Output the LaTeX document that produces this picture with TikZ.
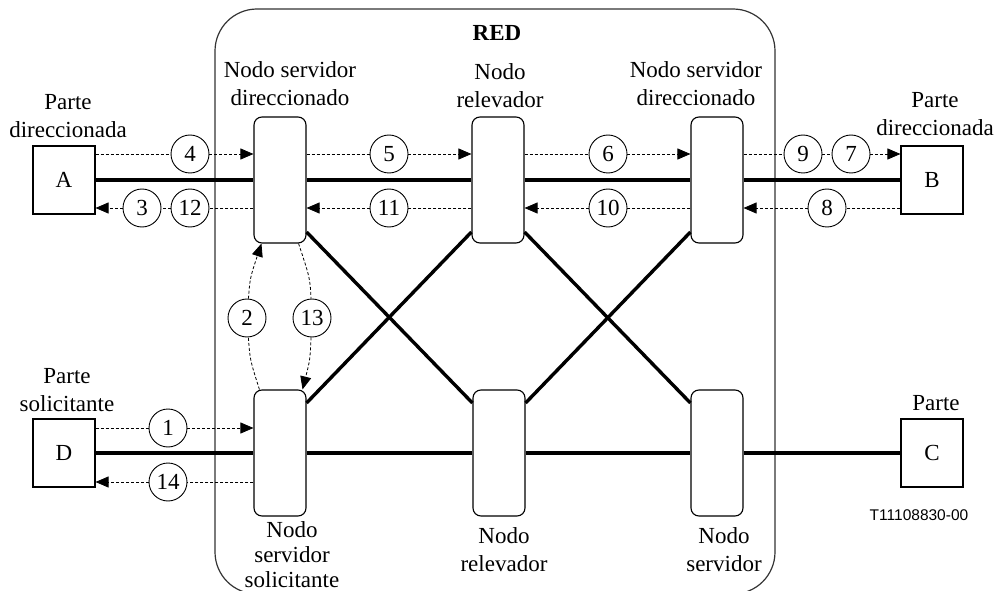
\documentclass[tikz,border=0pt]{standalone}
\usepackage{fontspec}
\setmainfont{Liberation Serif}
\newfontfamily\labsans{Liberation Sans}
\usetikzlibrary{arrows.meta,calc}
\begin{document}
\begin{tikzpicture}[x=1pt,y=-1pt,
  font=\fontsize{23}{28}\selectfont,
  srv/.style={draw,line width=1.1pt,rounded corners=8pt,minimum width=52pt,minimum height=126pt,fill=white,inner sep=0pt},
  party/.style={draw,line width=1.1pt,minimum width=62pt,minimum height=68pt,inner sep=0pt,fill=white},
  num/.style={draw,circle,line width=0.9pt,minimum size=38pt,inner sep=0pt,fill=white},
  lab/.style={align=center,inner sep=0pt},
  trunk/.style={line width=3.4pt},
  dl/.style={line width=0.8pt,dash pattern=on 3pt off 2pt},
  arr/.style={dl,-{Triangle[length=13pt,width=11pt]}},
]
\path[use as bounding box] (0,0) rectangle (997,591);
\clip (0,0) rectangle (997,591);
% network frame
\draw[line width=1.2pt,draw=black!80,rounded corners=42pt] (215,9) rectangle (775,594);
\node (red) at (497,33) {\bfseries RED};
% parties
\node[party] (A) at (64,180) {A};
\node[party] (B) at (932,180) {B};
\node[party] (D) at (64,453) {D};
\node[party] (C) at (932,453) {C};
% network nodes
\node[srv] (sA) at (280,180) {};
\node[srv] (rA) at (498,180) {};
\node[srv] (sB) at (717,180) {};
\node[srv] (sD) at (280,453) {};
\node[srv] (rD) at (499,453) {};
\node[srv] (sC) at (717,453) {};
% trunks
\draw[trunk] (A) -- (sA);
\draw[trunk] (sA) -- (rA);
\draw[trunk] (rA) -- (sB);
\draw[trunk] (sB) -- (B);
\draw[trunk] (D) -- (sD);
\draw[trunk] (sD) -- (rD);
\draw[trunk] (rD) -- (sC);
\draw[trunk] (sC) -- (C);
\draw[trunk] ($(sA.east)+(0,52)$) -- ($(rD.west)+(0,-50)$);
\draw[trunk] ($(rA.west)+(0,52)$) -- ($(sD.east)+(0,-50)$);
\draw[trunk] ($(sB.west)+(0,52)$) -- ($(rD.east)+(0,-50)$);
\draw[trunk] ($(rA.east)+(0,52)$) -- ($(sC.west)+(0,-50)$);
% numbered circles
\node[num] (c4) at (190,154) {4};
\node[num] (c5) at (389,154) {5};
\node[num] (c6) at (608,154) {6};
\node[num] (c9) at (803,154) {9};
\node[num] (c7) at (851,154) {7};
\node[num] (c3) at (142,208) {3};
\node[num] (c12) at (190,208) {12};
\node[num] (c11) at (389,208) {11};
\node[num] (c10) at (608,208) {10};
\node[num] (c8) at (827,208) {8};
\node[num] (c1) at (168,428) {1};
\node[num] (c14) at (168,482) {14};
\node[num] (c2) at (247,318) {2};
\node[num] (c13) at (312,318) {13};
% dashed signalling flows
\draw[dl] (A.east |- c4) -- (c4); \draw[arr] (c4) -- (c4 -| sA.west);
\draw[dl] (sA.east |- c5) -- (c5); \draw[arr] (c5) -- (c5 -| rA.west);
\draw[dl] (rA.east |- c6) -- (c6); \draw[arr] (c6) -- (c6 -| sB.west);
\draw[dl] (sB.east |- c9) -- (c9); \draw[dl] (c9) -- (c7); \draw[arr] (c7) -- (c7 -| B.west);
\draw[dl] (B.west |- c8) -- (c8); \draw[arr] (c8) -- (c8 -| sB.east);
\draw[dl] (sB.west |- c10) -- (c10); \draw[arr] (c10) -- (c10 -| rA.east);
\draw[dl] (rA.west |- c11) -- (c11); \draw[arr] (c11) -- (c11 -| sA.east);
\draw[dl] (sA.west |- c12) -- (c12); \draw[dl] (c12) -- (c3); \draw[arr] (c3) -- (c3 -| A.east);
\draw[dl] (D.east |- c1) -- (c1); \draw[arr] (c1) -- (c1 -| sD.west);
\draw[dl] (sD.west |- c14) -- (c14); \draw[arr] (c14) -- (c14 -| D.east);
\draw[dl] ($(sD.north west)+(6,0)$) .. controls (250,360) .. (c2);
\draw[arr] (c2) .. controls (250,278) .. ($(sA.south west)+(8,0)$);
\draw[dl] ($(sA.south east)+(-8,0)$) .. controls (310,278) .. (c13);
\draw[arr] (c13) .. controls (310,360) .. ($(sD.north east)+(-4,0)$);
% labels
\node[lab] (lsA) at (290,84) {Nodo servidor\\direccionado};
\node[lab] (lrA) at (500,86) {Nodo\\relevador};
\node[lab] (lsB) at (696,84) {Nodo servidor\\direccionado};
\node[lab] (lA) at (68,116) {Parte\\direccionada};
\node[lab] (lB) at (935,114) {Parte\\direccionada};
\node[lab] (lD) at (67,390) {Parte\\solicitante};
\node[lab] (lC) at (936,403) {Parte};
\node[lab,font=\fontsize{23}{25}\selectfont] (lsD) at (292,555) {Nodo\\servidor\\solicitante};
\node[lab] (lrD) at (504,550) {Nodo\\relevador};
\node[lab] (lsC) at (724,550) {Nodo\\servidor};
\node[inner sep=0pt] (code) at (919,515) {\labsans\fontsize{15.5}{18}\selectfont T11108830-00};
\end{tikzpicture}
\end{document}
